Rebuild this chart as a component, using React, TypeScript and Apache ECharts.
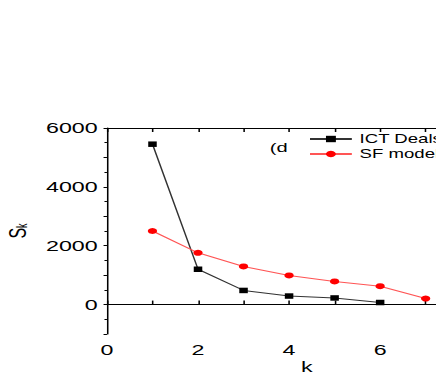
import React, { useEffect, useRef } from "react";
import * as echarts from "echarts";

const kValues = [1, 2, 3, 4, 5, 6, 7];
const ictDeals = [5450, 1200, 480, 290, 225, 70];
const sfModel = [2500, 1760, 1295, 990, 785, 625, 205];
const xTickLabels = [0, 2, 4, 6];
const yTickLabels = [0, 2000, 4000, 6000];

const SX = 1.55;
const FONT = "'Liberation Sans', Arial, sans-serif";

export default function App() {
  const ref = useRef<HTMLDivElement>(null);
  useEffect(() => {
    if (!ref.current) return;
    const chart = echarts.init(ref.current, undefined, { renderer: "svg" });
    const axisLine = { show: true, lineStyle: { color: "#000", width: 1 } };
    chart.setOption({
      animation: false,
      backgroundColor: "#fff",
      textStyle: { fontFamily: FONT },
      grid: { left: 69, right: 6, top: 128, bottom: 48, outerBoundsMode: "none", containLabel: false },
      legend: {
        orient: "vertical",
        left: 194,
        top: 128,
        itemWidth: 27,
        itemHeight: 8,
        itemGap: 3,
        textStyle: { fontSize: 12, color: "#000", fontFamily: FONT },
        data: ["ICT Deals", "SF model"],
      },
      xAxis: [
        {
          type: "value",
          min: 0,
          max: 8,
          interval: 1,
          axisLine,
          splitLine: { show: false },
          axisTick: { inside: true, length: 4, lineStyle: { color: "#000" } },
          axisLabel: {
            fontSize: 15,
            color: "#000",
            margin: 8,
            fontFamily: FONT,
            formatter: (v: number) => (xTickLabels.includes(v) ? String(v) : ""),
          },
        },
        {
          type: "value",
          position: "top",
          min: 0,
          max: 8,
          interval: 1,
          axisLine,
          splitLine: { show: false },
          axisTick: { inside: true, length: 4, lineStyle: { color: "#000" } },
          axisLabel: { show: false },
        },
      ],
      yAxis: {
        type: "value",
        min: -1000,
        max: 6000,
        interval: 1000,
        axisLine,
        splitLine: { show: false },
        axisTick: { show: true, length: 2.2, lineStyle: { color: "#000" } },
        minorTick: { show: true, splitNumber: 2, length: 1.6, lineStyle: { color: "#000" } },
        axisLabel: {
          fontSize: 15,
          color: "#000",
          margin: 6,
          fontFamily: FONT,
          formatter: (v: number) => (yTickLabels.includes(v) ? String(v) : ""),
        },
        name: "{s|S}{k|k}",
        nameLocation: "middle",
        nameRotate: 90,
        nameGap: 43,
        nameTextStyle: {
          rich: {
            s: { fontSize: 16, color: "#000", fontFamily: FONT },
            k: { fontSize: 9, color: "#000", fontFamily: FONT, verticalAlign: "bottom" },
          },
        },
      },
      graphic: [
        {
          type: "text",
          x: 198,
          y: 367,
          style: { text: "k", fontSize: 15, fill: "#000", fontFamily: FONT, align: "center", verticalAlign: "middle" },
        },
        {
          type: "text",
          x: 174,
          y: 148,
          style: { text: "(d", fontSize: 13, fill: "#000", fontFamily: FONT, align: "left", verticalAlign: "middle" },
        },
      ],
      series: [
        {
          name: "ICT Deals",
          type: "line",
          data: ictDeals.map((v, i) => [kValues[i], v]),
          symbol: "rect",
          symbolSize: 5.5,
          lineStyle: { color: "#333", width: 1 },
          itemStyle: { color: "#000" },
        },
        {
          name: "SF model",
          type: "line",
          data: sfModel.map((v, i) => [kValues[i], v]),
          symbol: "circle",
          symbolSize: 6,
          lineStyle: { color: "#ff5555", width: 1 },
          itemStyle: { color: "#ff0000" },
        },
      ],
    });
    return () => chart.dispose();
  }, []);
  return (
    <div
      style={{
        position: "fixed",
        left: 0,
        top: 0,
        width: 436,
        height: 382,
        overflow: "hidden",
        background: "#fff",
      }}
    >
      <div
        ref={ref}
        style={{
          width: 310,
          height: 382,
          transform: `scaleX(${SX})`,
          transformOrigin: "0 0",
        }}
      />
    </div>
  );
}
